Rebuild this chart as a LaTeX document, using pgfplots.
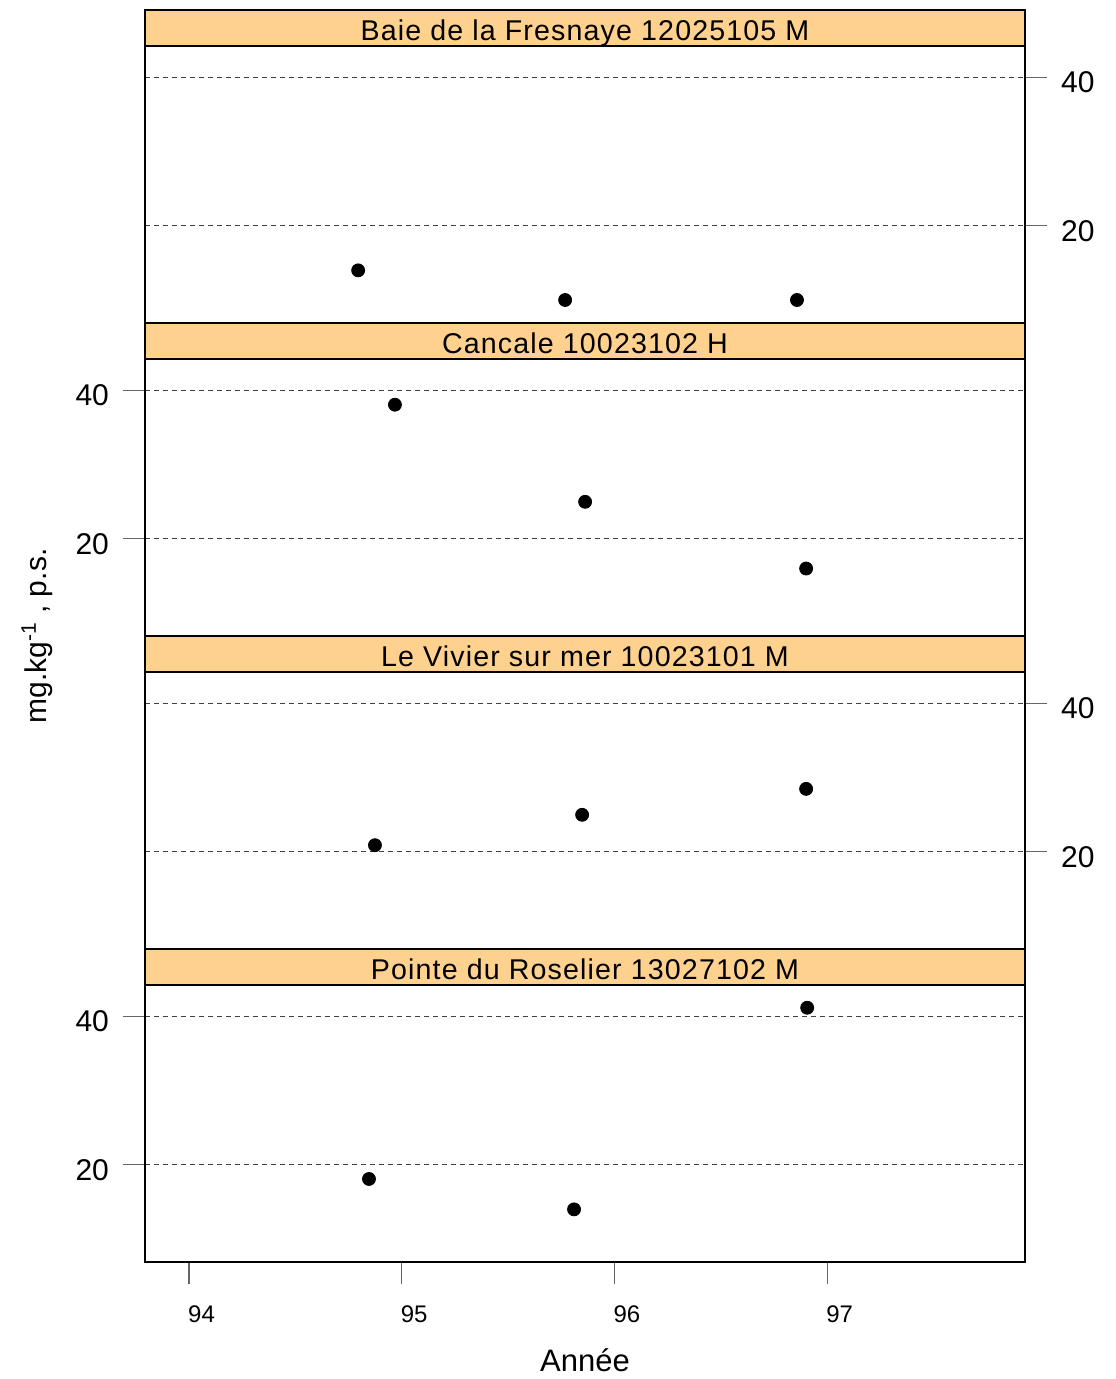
\documentclass[border=0pt]{standalone}
\usepackage{fontspec}
\setmainfont{Liberation Sans}
\usepackage{pgfplots}
\pgfplotsset{compat=1.18}
\definecolor{stripcol}{RGB}{255,209,143}

\pgfplotsset{
 panel/.style={
   anchor=south west,
   width=440pt, height=138.25pt, scale only axis,
   xmin=93.793, xmax=97.93, ymin=6.9, ymax=44.2,
   clip=false,
   axis line style={line width=1pt, black},
   ytick={20,40},
   ymajorgrids,
   grid style={black!75, line width=0.5pt, dash pattern=on 2.5pt off 2pt},
   tick align=outside,
   major tick length=11pt,
   tick style={black!60, line width=0.6pt},
   /pgf/number format/assume math mode=true,
   yticklabel style={font=\fontsize{15}{18}\selectfont, yshift=-2.5pt},
   xticklabel style={font=\fontsize{12}{14}\selectfont},
 },
 rightticks/.style={ytick pos=right, yticklabel pos=right, yticklabel style={xshift=3.5pt}},
 leftticks/.style={ytick pos=left, yticklabel pos=left, yticklabel style={xshift=-3.5pt}},
 dots/.style={only marks, mark=*, mark size=3.25pt, black},
}
\newcommand{\strip}[1]{%
 \draw[fill=stripcol, line width=1pt] (rel axis cs:0,1) rectangle ([yshift=18.25pt]rel axis cs:1,1);
 \node[anchor=base, inner sep=0pt, font=\fontsize{14.3}{17}\selectfont\addfontfeatures{LetterSpace=4}] at ([yshift=3pt]rel axis cs:0.5,1) {#1};
}

\begin{document}
\begin{tikzpicture}
% panel 4 (bottom)
\begin{axis}[panel, leftticks, at={(0pt,0pt)},
  xtick={94,95,96,97}, xtick pos=bottom,
  xticklabel style={xshift=6.25pt, yshift=-7.5pt}]
\addplot[dots] coordinates {(94.846,18.1) (95.81,14.0) (96.906,41.2)};
\strip{Pointe du Roselier 13027102 M}
\end{axis}
% panel 3
\begin{axis}[panel, rightticks, at={(0pt,156.5pt)}, xtick=\empty]
\addplot[dots] coordinates {(94.874,20.9) (95.848,25.0) (96.901,28.5)};
\strip{Le Vivier sur mer 10023101 M}
\end{axis}
% panel 2
\begin{axis}[panel, leftticks, at={(0pt,313pt)}, xtick=\empty]
\addplot[dots] coordinates {(94.968,38.1) (95.862,25.0) (96.901,16.0)};
\strip{Cancale 10023102 H}
\end{axis}
% panel 1 (top)
\begin{axis}[panel, rightticks, at={(0pt,469.5pt)}, xtick=\empty]
\addplot[dots] coordinates {(94.795,14.0) (95.768,10.0) (96.858,10.0)};
\strip{Baie de la Fresnaye 12025105 M}
\end{axis}
\node[rotate=90, font=\fontsize{15}{18}\selectfont] at (-54pt,313pt) {mg.kg\textsuperscript{-1} , p.s.};
\node[font=\fontsize{15.5}{18}\selectfont] at (220pt,-49pt) {Année};
\pgfresetboundingbox
\path (-72.5pt,-58.5pt) rectangle (485pt,631pt);
\end{tikzpicture}
\end{document}
